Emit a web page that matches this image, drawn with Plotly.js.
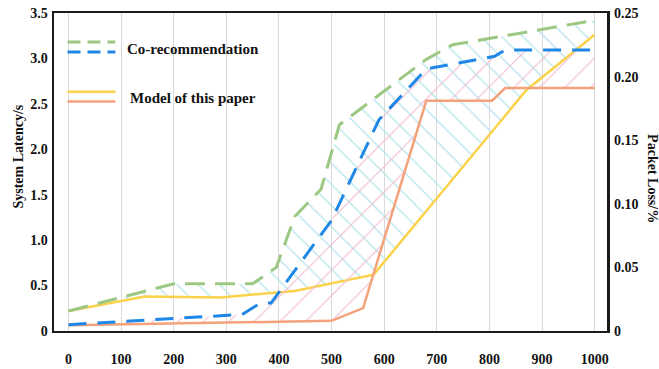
<!DOCTYPE html>
<html>
<head>
<meta charset="utf-8">
<script src="https://cdn.plot.ly/plotly-3.0.1.min.js"></script>
<style>
html,body{margin:0;padding:0;background:#fff;}
#chart{width:659px;height:369px;}
</style>
</head>
<body>
<div id="chart"></div>
<script>
// ---- data ----
// System latency (s), left axis
const coLatX   = [0, 150, 200, 350, 395, 430, 480, 515, 680, 730, 1000];
const coLatY   = [0.22, 0.45, 0.52, 0.52, 0.70, 1.26, 1.56, 2.27, 2.99, 3.15, 3.42];
const ourLatX  = [0, 145, 290, 430, 580, 870, 1000];
const ourLatY  = [0.22, 0.38, 0.37, 0.44, 0.62, 2.65, 3.26];
// Packet loss (%), right axis
const coLossX  = [0, 330, 365, 385, 500, 590, 680, 810, 830, 1000];
const coLossY  = [0.005, 0.013, 0.022, 0.022, 0.087, 0.166, 0.206, 0.216, 0.221, 0.221];
const ourLossX = [0, 340, 500, 560, 680, 805, 830, 1000];
const ourLossY = [0.0045, 0.007, 0.008, 0.018, 0.181, 0.181, 0.191, 0.191];

const xTicks   = [0, 100, 200, 300, 400, 500, 600, 700, 800, 900, 1000];
const yTicks   = [0, 0.5, 1.0, 1.5, 2.0, 2.5, 3.0, 3.5];
const yLabels  = ['0', '0.5', '1.0', '1.5', '2.0', '2.5', '3.0', '3.5'];
const y2Ticks  = [0, 0.05, 0.10, 0.15, 0.20, 0.25];
const y2Labels = ['0', '0.05', '0.10', '0.15', '0.20', '0.25'];

const legendNames = ['Co-recommendation', 'Model of this paper'];

// ---- styles ----
const FONT = 'Liberation Serif, Times New Roman, serif';
const C_GREEN = '#9dc884', C_BLUE = '#1f88e6', C_YELLOW = '#fcd24a', C_ORANGE = '#f3a27c';
const C_CYAN = '#b3e3ec', C_PINK = '#f0bcd0';

const traces = [
  {x: ourLatX, y: ourLatY, type: 'scatter', mode: 'lines', xaxis: 'x', yaxis: 'y',
   line: {color: C_YELLOW, width: 2.5}, showlegend: false, hoverinfo: 'skip'},
  {x: coLatX, y: coLatY, type: 'scatter', mode: 'lines', xaxis: 'x', yaxis: 'y',
   fill: 'tonexty', fillcolor: 'rgba(0,0,0,0)',
   fillpattern: {shape: '\\', fgcolor: C_CYAN, bgcolor: 'rgba(0,0,0,0)', size: 15, solidity: 0.08},
   line: {color: C_GREEN, width: 3, dash: '20px,10px'}, showlegend: false, hoverinfo: 'skip'},
  {x: ourLossX, y: ourLossY, type: 'scatter', mode: 'lines', xaxis: 'x', yaxis: 'y2',
   line: {color: C_ORANGE, width: 2.5}, showlegend: false, hoverinfo: 'skip'},
  {x: coLossX, y: coLossY, type: 'scatter', mode: 'lines', xaxis: 'x', yaxis: 'y2',
   fill: 'tonexty', fillcolor: 'rgba(0,0,0,0)',
   fillpattern: {shape: '/', fgcolor: C_PINK, bgcolor: 'rgba(0,0,0,0)', size: 18, solidity: 0.065},
   line: {color: C_BLUE, width: 3, dash: '18px,11px'}, showlegend: false, hoverinfo: 'skip'}
];

const tickFont = {family: FONT, size: 14, color: '#111', weight: 'bold'};

const layout = {
  width: 659, height: 369,
  margin: {l: 54, r: 52, t: 13, b: 38},
  paper_bgcolor: '#fff', plot_bgcolor: '#fff',
  showlegend: false,
  xaxis: {
    range: [-27.5, 1023.5], tickmode: 'array', tickvals: xTicks,
    showgrid: true, gridcolor: '#d9d9d9', gridwidth: 1, zeroline: false,
    showline: true, mirror: true, linecolor: '#1a1a1a', linewidth: 2,
    ticks: '', tickfont: tickFont, ticklabelstandoff: 14
  },
  yaxis: {
    range: [0, 3.5], tickmode: 'array', tickvals: yTicks, ticktext: yLabels,
    showgrid: false, zeroline: false,
    showline: true, mirror: true, linecolor: '#1a1a1a', linewidth: 2.5,
    ticks: '', tickfont: tickFont, ticklabelstandoff: 1
  },
  yaxis2: {
    range: [0, 0.25], overlaying: 'y', side: 'right', tickmode: 'array',
    tickvals: y2Ticks, ticktext: y2Labels,
    showgrid: false, zeroline: false, showline: false,
    ticks: '', tickfont: tickFont, ticklabelstandoff: 6
  },
  shapes: [
    {type: 'line', xref: 'paper', yref: 'paper', x0: 0.0244, x1: 0.111, y0: 0.909, y1: 0.909,
     line: {color: C_GREEN, width: 3, dash: '13px,7px'}},
    {type: 'line', xref: 'paper', yref: 'paper', x0: 0.0244, x1: 0.111, y0: 0.877, y1: 0.877,
     line: {color: C_BLUE, width: 3, dash: '13px,7px'}},
    {type: 'line', xref: 'paper', yref: 'paper', x0: 0.0244, x1: 0.111, y0: 0.752, y1: 0.752,
     line: {color: C_YELLOW, width: 2.5}},
    {type: 'line', xref: 'paper', yref: 'paper', x0: 0.0244, x1: 0.111, y0: 0.722, y1: 0.722,
     line: {color: C_ORANGE, width: 2.5}}
  ],
  annotations: [
    {text: legendNames[0], xref: 'paper', yref: 'paper', x: 0.129, y: 0.886,
     xanchor: 'left', yanchor: 'middle', showarrow: false,
     font: {family: FONT, size: 15, color: '#111', weight: 'bold'}},
    {text: legendNames[1], xref: 'paper', yref: 'paper', x: 0.1347, y: 0.732,
     xanchor: 'left', yanchor: 'middle', showarrow: false,
     font: {family: FONT, size: 15, color: '#111', weight: 'bold'}},
    {text: 'System Latency/s', xref: 'paper', yref: 'paper', x: -0.0642, y: 0.55,
     xanchor: 'center', yanchor: 'middle', textangle: -90, showarrow: false,
     font: {family: FONT, size: 14, color: '#111', weight: 'bold'}},
    {text: 'Packet Loss/%', xref: 'paper', yref: 'paper', x: 1.0818, y: 0.48,
     xanchor: 'center', yanchor: 'middle', textangle: 90, showarrow: false,
     font: {family: FONT, size: 14, color: '#111', weight: 'bold'}}
  ]
};

Plotly.newPlot('chart', traces, layout, {displayModeBar: false, staticPlot: true});
</script>
</body>
</html>
